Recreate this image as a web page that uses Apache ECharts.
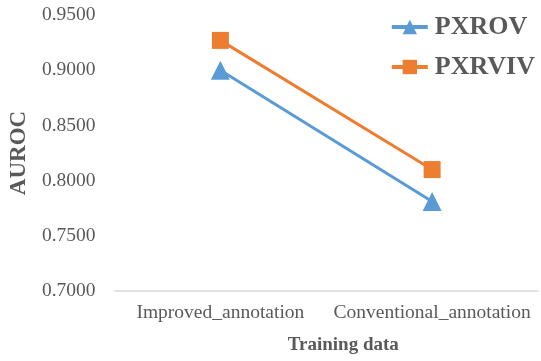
<!DOCTYPE html>
<html><head><meta charset="utf-8">
<script src="https://cdn.jsdelivr.net/npm/echarts@6/dist/echarts.min.js"></script>
<style>html,body{margin:0;padding:0;background:#fff}#c{width:541px;height:361px}</style>
</head><body><div id="c"></div>
<script>
const categories = ['Improved_annotation', 'Conventional_annotation'];
const pxrov = [0.900, 0.781];
const pxrviv = [0.927, 0.810];
const yTicks = { min: 0.70, max: 0.95, interval: 0.05 };

const chart = echarts.init(document.getElementById('c'));
const font = '"Liberation Serif", "Times New Roman", serif';
chart.setOption({
  animation: false,
  backgroundColor: '#fff',
  grid: { left: 112, right: 3, top: 15, bottom: 70 },
  legend: {
    orient: 'vertical', right: 1, top: 9, itemGap: 14,
    itemWidth: 36, itemHeight: 18,
    lineStyle: { width: 4 },
    textStyle: { fontFamily: font, fontSize: 26, fontWeight: 'bold', color: '#595959', padding: [0,0,0,2] },
    data: ['PXROV', 'PXRVIV']
  },
  xAxis: {
    type: 'category', data: categories,
    axisLine: { lineStyle: { color: '#d9d9d9', width: 1.5 } },
    axisTick: { show: false },
    axisLabel: { fontFamily: font, fontSize: 19.5, color: '#595959', margin: 12, interval: 0, hideOverlap: false },
    name: 'Training data', nameLocation: 'middle', nameGap: 45,
    nameTextStyle: { fontFamily: font, fontSize: 19, fontWeight: 'bold', color: '#595959', padding: [0,0,0,34] }
  },
  yAxis: {
    type: 'value', min: yTicks.min, max: yTicks.max, interval: yTicks.interval,
    axisLine: { show: false }, axisTick: { show: false }, splitLine: { show: false },
    axisLabel: { fontFamily: font, fontSize: 19.5, color: '#595959', margin: 19, formatter: v => v.toFixed(4) },
    name: 'AUROC', nameLocation: 'middle', nameGap: 77, nameRotate: 90,
    nameTextStyle: { fontFamily: font, fontSize: 23, fontWeight: 'bold', color: '#595959' }
  },
  series: [
    { name: 'PXROV', type: 'line', data: pxrov, symbol: 'triangle', symbolSize: 19,
      lineStyle: { color: '#5B9BD5', width: 3 }, itemStyle: { color: '#5B9BD5' } },
    { name: 'PXRVIV', type: 'line', data: pxrviv, symbol: 'rect', symbolSize: 17,
      lineStyle: { color: '#ED7D31', width: 3 }, itemStyle: { color: '#ED7D31' } }
  ]
});
</script></body></html>
